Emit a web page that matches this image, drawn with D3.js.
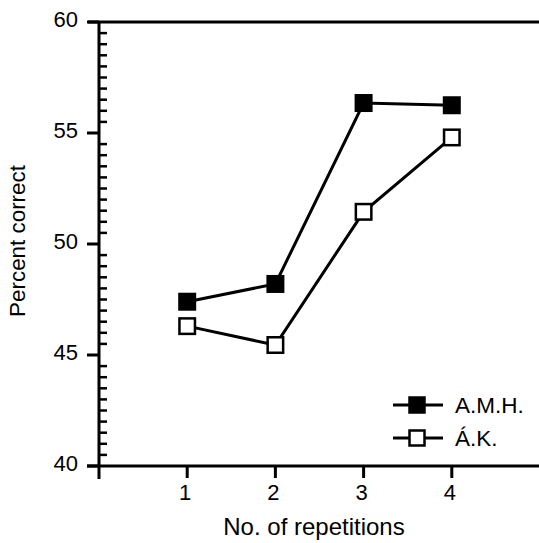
<!DOCTYPE html>
<html><head><meta charset="utf-8">
<script src="https://cdn.jsdelivr.net/npm/d3@7"></script>
<style>body{margin:0;background:#fff}svg{display:block}text{font-family:"Liberation Sans",Arial,sans-serif;fill:#000}</style>
</head><body>
<script>
const repetitions = [1, 2, 3, 4];
const amh = [47.4, 48.2, 56.35, 56.25];
const ak = [46.3, 45.45, 51.45, 54.8];
const yTicks = [40, 45, 50, 55, 60];
const seriesNames = ["A.M.H.", "Á.K."];

const W = 539, H = 543;
const svg = d3.select("body").append("svg").attr("width", W).attr("height", H);
const x = d3.scaleLinear().domain([0, 5]).range([99, 540]);
const y = d3.scaleLinear().domain([40, 60]).range([466, 22]);

// top line
svg.append("line").attr("x1", 88).attr("x2", W).attr("y1", y(60)).attr("y2", y(60))
  .attr("stroke", "#000").attr("stroke-width", 3);

// y axis
const yAxisG = svg.append("g").attr("transform", `translate(${x(0)},0)`);
yAxisG.append("line").attr("x1", 0).attr("x2", 0).attr("y1", y(60)).attr("y2", 479)
  .attr("stroke", "#000").attr("stroke-width", 3);
const minor = d3.range(40.5, 60, 0.5).filter(v => v % 5 !== 0);
yAxisG.selectAll(".minor").data(minor).join("line")
  .attr("x1", 0).attr("x2", 8).attr("y1", d => y(d)).attr("y2", d => y(d))
  .attr("stroke", "#000").attr("stroke-width", 2.5);
yAxisG.selectAll(".major").data(yTicks).join("line")
  .attr("x1", -12).attr("x2", 0).attr("y1", d => y(d)).attr("y2", d => y(d))
  .attr("stroke", "#000").attr("stroke-width", 3);
yAxisG.selectAll(".lab").data(yTicks).join("text")
  .attr("x", -21).attr("y", d => y(d) + 5)
  .attr("text-anchor", "end").attr("font-size", 22).text(d => d);

// x axis
const xAxisG = svg.append("g").attr("transform", `translate(0,${y(40)})`);
xAxisG.append("line").attr("x1", 87).attr("x2", W).attr("y1", 0).attr("y2", 0)
  .attr("stroke", "#000").attr("stroke-width", 3);
xAxisG.selectAll(".xt").data(repetitions).join("line")
  .attr("x1", d => x(d)).attr("x2", d => x(d)).attr("y1", 0).attr("y2", 12)
  .attr("stroke", "#000").attr("stroke-width", 3);
xAxisG.selectAll(".xl").data(repetitions).join("text")
  .attr("x", d => x(d) - 2).attr("y", 34).attr("text-anchor", "middle")
  .attr("font-size", 22).text(d => d);

// titles
svg.append("text").attr("x", 314).attr("y", 535).attr("text-anchor", "middle")
  .attr("font-size", 24).text("No. of repetitions");
svg.append("text").attr("transform", `translate(25,241) rotate(-90)`)
  .attr("text-anchor", "middle").attr("font-size", 22.4).text("Percent correct");

// series
const line = d3.line().x((d, i) => x(repetitions[i])).y(d => y(d));
const series = [{v: amh, fill: "#000"}, {v: ak, fill: "#fff"}];
series.forEach(s => {
  svg.append("path").attr("d", line(s.v)).attr("fill", "none")
    .attr("stroke", "#000").attr("stroke-width", 3);
  svg.selectAll(null).data(s.v).join("rect")
    .attr("x", (d, i) => x(repetitions[i]) - 7.75).attr("y", d => y(d) - 7.75)
    .attr("width", 15.5).attr("height", 15.5)
    .attr("fill", s.fill).attr("stroke", "#000").attr("stroke-width", 2.5);
});

// legend
const lg = svg.append("g");
[405, 438].forEach((ly, i) => {
  lg.append("line").attr("x1", 393).attr("x2", 443).attr("y1", ly).attr("y2", ly)
    .attr("stroke", "#000").attr("stroke-width", 3);
  lg.append("rect").attr("x", 409.5).attr("y", ly - 7.5).attr("width", 15).attr("height", 15)
    .attr("fill", series[i].fill).attr("stroke", "#000").attr("stroke-width", 2.5);
  lg.append("text").attr("x", 455).attr("y", ly + 8)
    .attr("font-size", 22.5).text(seriesNames[i]);
});
</script>
</body></html>
